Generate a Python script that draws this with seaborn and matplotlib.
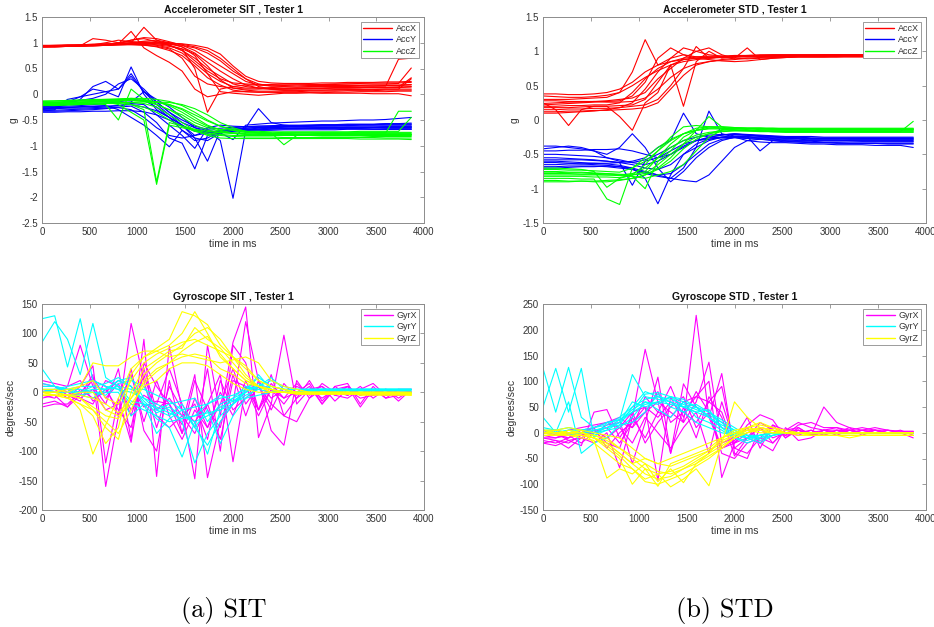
import numpy as np
import pandas as pd
import matplotlib
matplotlib.use("Agg")
import matplotlib.pyplot as plt
import seaborn as sns
from matplotlib.lines import Line2D

# ---------------- data ----------------
time_ms = [0, 133, 267, 400, 533, 667, 800, 933, 1067, 1200, 1333, 1467, 1600, 1733, 1867,
           2000, 2133, 2267, 2400, 2533, 2667, 2800, 2933, 3067, 3200, 3333, 3467, 3600, 3733, 3867]

acc_sit_x = [
    [0.93,0.93,0.94,0.95,0.95,0.96,0.97,0.98,0.97,0.95,0.90,0.80,0.60,0.40,0.25,0.15,0.12,0.12,0.13,0.14,0.14,0.15,0.15,0.15,0.16,0.16,0.16,0.17,0.17,0.18],
    [0.92,0.93,0.93,0.94,0.95,0.96,0.97,1.00,1.30,1.05,0.95,0.85,0.70,0.50,0.35,0.20,0.15,0.12,0.10,0.10,0.10,0.11,0.11,0.12,0.12,0.12,0.13,0.13,0.13,0.14],
    [0.94,0.94,0.95,0.95,0.96,0.96,0.98,1.22,0.90,0.75,0.62,0.45,0.10,-0.05,0.00,0.05,0.05,0.04,0.04,0.03,0.03,0.03,0.02,0.02,0.02,0.02,0.01,0.01,0.01,-0.03],
    [0.92,0.92,0.93,0.94,0.94,0.95,0.96,0.97,0.98,0.98,0.97,0.95,0.90,0.80,0.65,0.45,0.30,0.20,0.16,0.15,0.14,0.14,0.15,0.15,0.15,0.16,0.16,0.16,0.68,0.70],
    [0.93,0.94,0.94,0.95,0.96,1.00,1.05,1.02,1.00,0.98,0.95,0.88,0.50,-0.35,0.10,0.15,0.18,0.18,0.19,0.20,0.20,0.19,0.19,0.19,0.20,0.20,0.20,0.20,0.21,0.51],
    [0.93,0.93,0.94,0.94,1.08,1.05,1.00,1.02,0.99,0.96,0.93,0.88,0.78,0.55,0.28,0.12,0.08,0.06,0.06,0.07,0.07,0.08,0.08,0.08,0.09,0.09,0.09,0.10,0.10,0.30],
    [0.94,0.95,0.95,0.96,0.97,0.97,0.98,1.05,1.10,1.08,1.02,0.95,0.85,0.70,0.55,0.40,0.25,0.18,0.16,0.17,0.18,0.18,0.19,0.20,0.20,0.21,0.22,0.22,0.22,0.23],
    [0.92,0.92,0.93,0.93,0.94,0.95,0.96,0.96,0.95,0.93,0.88,0.70,0.35,0.20,0.15,0.12,0.10,0.10,0.11,0.11,0.12,0.12,0.12,0.13,0.13,0.13,0.14,0.14,0.14,0.15],
    [0.93,0.93,0.93,0.94,0.95,0.96,0.97,0.99,1.02,1.00,0.98,0.92,0.75,0.40,0.05,0.02,0.00,-0.02,0.00,0.02,0.02,0.03,0.03,0.04,0.04,0.05,0.05,0.05,0.06,0.06],
    [0.95,0.95,0.96,0.96,0.97,0.98,0.98,0.99,1.00,1.00,0.99,0.98,0.95,0.90,0.78,0.55,0.35,0.25,0.22,0.21,0.21,0.21,0.22,0.22,0.23,0.23,0.23,0.24,0.24,0.25],
    [0.92,0.93,0.93,0.94,0.95,0.96,0.97,0.98,1.00,1.02,1.00,0.97,0.92,0.85,0.70,0.50,0.30,0.15,0.10,0.08,0.08,0.08,0.08,0.09,0.09,0.09,0.10,0.10,0.10,0.10],
    [0.94,0.94,0.95,0.95,0.96,0.97,1.00,1.05,1.08,1.02,0.95,0.85,0.65,0.45,0.30,0.22,0.20,0.19,0.18,0.18,0.18,0.17,0.17,0.17,0.17,0.17,0.18,0.18,0.18,0.19],
    [0.93,0.93,0.94,0.95,0.96,0.97,0.98,1.00,1.03,1.05,1.00,0.92,0.80,0.62,0.45,0.30,0.18,0.12,0.10,0.10,0.11,0.11,0.12,0.12,0.12,0.13,0.13,0.13,0.14,0.32],
    [0.92,0.92,0.93,0.94,0.94,0.95,0.96,0.97,0.96,0.92,0.85,0.75,0.55,0.32,0.18,0.08,0.05,0.04,0.04,0.05,0.05,0.06,0.06,0.06,0.07,0.07,0.07,0.08,0.08,0.08],
]
acc_sit_y = [
    [-0.28,-0.27,-0.26,-0.25,-0.24,-0.23,-0.22,-0.20,-0.25,-0.32,-0.45,-0.60,-0.72,-0.75,-0.70,-0.68,-0.66,-0.65,-0.64,-0.63,-0.62,-0.62,-0.62,-0.62,-0.62,-0.62,-0.62,-0.62,-0.62,-0.62],
    [-0.30,-0.30,-0.10,-0.05,0.10,0.05,-0.05,0.53,0.00,-0.30,-0.45,-0.60,-0.80,-0.70,-0.90,-2.02,-0.70,-0.65,-0.64,-0.63,-0.62,-0.61,-0.60,-0.60,-0.60,-0.59,-0.59,-0.58,-0.58,-0.58],
    [-0.32,-0.31,-0.30,-0.29,-0.28,-0.27,-0.25,-0.23,-0.35,-0.55,-0.85,-0.95,-1.45,-0.80,-0.75,-0.72,-0.70,-0.69,-0.68,-0.67,-0.66,-0.66,-0.65,-0.65,-0.65,-0.65,-0.65,-0.64,-0.64,-0.64],
    [-0.25,-0.22,-0.15,-0.05,0.00,0.05,0.10,0.35,0.05,-0.20,-0.40,-0.60,-0.85,-1.30,-0.70,-0.65,-0.63,-0.62,-0.61,-0.60,-0.60,-0.60,-0.59,-0.59,-0.58,-0.58,-0.58,-0.57,-0.57,-0.56],
    [-0.26,-0.26,-0.25,-0.24,-0.23,-0.22,-0.30,-0.45,-0.60,-0.80,-1.02,-0.70,-0.85,-0.90,-0.75,-0.70,-0.65,-0.28,-0.55,-0.60,-0.62,-0.63,-0.64,-0.64,-0.65,-0.65,-0.65,-0.66,-0.66,-0.66],
    [-0.30,-0.25,-0.20,-0.10,0.15,0.25,0.10,0.40,0.05,-0.10,-0.25,-0.45,-0.65,-0.75,-0.72,-0.70,-0.68,-0.67,-0.66,-0.66,-0.66,-0.66,-0.67,-0.67,-0.67,-0.67,-0.68,-0.68,-0.68,-0.68],
    [-0.35,-0.35,-0.34,-0.34,-0.33,-0.33,-0.32,-0.32,-0.34,-0.40,-0.50,-0.62,-0.70,-0.72,-0.72,-0.71,-0.70,-0.70,-0.70,-0.69,-0.69,-0.69,-0.69,-0.69,-0.68,-0.68,-0.68,-0.68,-0.68,-0.68],
    [-0.22,-0.21,-0.20,-0.19,-0.18,-0.17,-0.16,-0.15,0.05,-0.15,-0.35,-0.55,-0.65,-0.70,-0.75,-0.88,-0.60,-0.58,-0.56,-0.55,-0.54,-0.53,-0.52,-0.52,-0.51,-0.50,-0.50,-0.49,-0.47,-0.45],
    [-0.28,-0.28,-0.27,-0.27,-0.26,-0.25,-0.22,-0.18,-0.20,-0.40,-0.60,-0.80,-1.05,-0.65,-0.60,-0.62,-0.63,-0.64,-0.64,-0.65,-0.65,-0.65,-0.65,-0.65,-0.64,-0.64,-0.64,-0.63,-0.63,-0.63],
    [-0.24,-0.24,-0.23,-0.22,-0.20,-0.18,-0.15,-0.10,-0.12,-0.25,-0.45,-0.70,-0.90,-0.85,-0.72,-0.68,-0.66,-0.64,-0.63,-0.62,-0.62,-0.61,-0.61,-0.61,-0.61,-0.60,-0.60,-0.60,-0.60,-0.60],
    [-0.33,-0.33,-0.32,-0.31,-0.30,-0.28,-0.26,-0.30,-0.45,-0.65,-0.80,-0.85,-0.80,-0.75,-0.72,-0.70,-0.69,-0.68,-0.67,-0.67,-0.67,-0.66,-0.66,-0.66,-0.66,-0.66,-0.65,-0.65,-0.65,-0.65],
    [-0.20,-0.18,-0.15,-0.12,-0.08,0.00,0.20,0.30,0.10,-0.15,-0.35,-0.50,-0.62,-0.68,-0.66,-0.64,-0.63,-0.62,-0.62,-0.61,-0.61,-0.60,-0.60,-0.60,-0.59,-0.59,-0.59,-0.58,-0.58,-0.58],
]
acc_sit_z = [
    [-0.15,-0.15,-0.14,-0.13,-0.12,-0.12,-0.12,-0.12,-0.13,-0.15,-0.20,-0.30,-0.45,-0.60,-0.70,-0.75,-0.77,-0.78,-0.78,-0.78,-0.78,-0.78,-0.78,-0.78,-0.78,-0.78,-0.78,-0.78,-0.78,-0.78],
    [-0.18,-0.18,-0.17,-0.16,-0.15,-0.15,-0.20,-0.35,-0.50,-1.75,-0.60,-0.65,-0.70,-0.75,-0.78,-0.80,-0.80,-0.80,-0.80,-0.80,-0.80,-0.80,-0.81,-0.81,-0.81,-0.81,-0.82,-0.82,-0.82,-0.82],
    [-0.20,-0.20,-0.19,-0.18,-0.18,-0.20,-0.50,0.10,-0.10,-0.20,-0.30,-0.40,-0.55,-0.65,-0.72,-0.76,-0.78,-0.79,-0.80,-0.80,-0.80,-0.80,-0.80,-0.80,-0.80,-0.80,-0.80,-0.80,-0.80,-0.80],
    [-0.14,-0.13,-0.12,-0.12,-0.11,-0.10,-0.10,-0.10,-0.12,-0.15,-0.20,-0.28,-0.40,-0.52,-0.62,-0.68,-0.72,-0.74,-0.75,-0.98,-0.80,-0.78,-0.77,-0.76,-0.76,-0.75,-0.75,-0.75,-0.33,-0.33],
    [-0.22,-0.22,-0.21,-0.20,-0.19,-0.18,-0.17,-0.16,-0.18,-0.25,-0.40,-0.55,-0.70,-0.80,-0.85,-0.86,-0.86,-0.86,-0.86,-0.86,-0.86,-0.86,-0.86,-0.86,-0.86,-0.87,-0.87,-0.87,-0.87,-0.88],
    [-0.16,-0.16,-0.15,-0.15,-0.14,-0.12,-0.10,-0.08,-0.10,-0.15,-0.22,-0.35,-0.50,-0.62,-0.68,-0.70,-0.72,-0.72,-0.73,-0.73,-0.73,-0.73,-0.73,-0.73,-0.73,-0.72,-0.72,-0.72,-0.72,-0.45],
    [-0.17,-0.17,-0.16,-0.16,-0.15,-0.14,-0.14,-0.20,-0.30,-1.70,-0.55,-0.62,-0.68,-0.72,-0.75,-0.76,-0.77,-0.77,-0.77,-0.77,-0.77,-0.77,-0.76,-0.76,-0.76,-0.76,-0.76,-0.76,-0.76,-0.76],
    [-0.19,-0.19,-0.18,-0.18,-0.17,-0.17,-0.16,-0.16,-0.15,-0.15,-0.16,-0.20,-0.28,-0.40,-0.55,-0.65,-0.72,-0.75,-0.76,-0.76,-0.77,-0.77,-0.77,-0.77,-0.78,-0.78,-0.78,-0.78,-0.78,-0.78],
    [-0.13,-0.13,-0.12,-0.11,-0.10,-0.10,-0.09,-0.08,-0.08,-0.10,-0.14,-0.22,-0.35,-0.50,-0.62,-0.70,-0.74,-0.76,-0.77,-0.77,-0.78,-0.78,-0.78,-0.78,-0.79,-0.79,-0.79,-0.79,-0.79,-0.79],
    [-0.21,-0.21,-0.20,-0.20,-0.19,-0.18,-0.18,-0.20,-0.25,-0.35,-0.50,-0.62,-0.72,-0.78,-0.80,-0.82,-0.83,-0.83,-0.83,-0.84,-0.84,-0.84,-0.84,-0.84,-0.84,-0.84,-0.84,-0.85,-0.85,-0.85],
    [-0.17,-0.17,-0.16,-0.15,-0.15,-0.14,-0.13,-0.12,-0.14,-0.20,-0.30,-0.45,-0.60,-0.70,-0.74,-0.75,-0.75,-0.75,-0.75,-0.74,-0.74,-0.74,-0.74,-0.74,-0.74,-0.74,-0.74,-0.74,-0.74,-0.74],
]

acc_std_x = [
    [0.20,0.20,0.21,0.21,0.22,0.22,0.25,0.40,0.60,0.75,0.85,0.88,0.90,0.92,0.92,0.93,0.93,0.93,0.93,0.94,0.94,0.94,0.94,0.94,0.94,0.94,0.94,0.93,0.93,0.93],
    [0.30,0.30,0.30,0.31,0.32,0.33,0.40,0.70,1.17,0.80,0.85,0.90,0.92,0.93,0.93,0.94,0.94,0.95,0.95,0.95,0.95,0.95,0.95,0.95,0.95,0.95,0.95,0.95,0.95,0.95],
    [0.25,0.15,-0.08,0.15,0.20,0.20,0.21,0.22,0.30,0.55,0.80,0.88,0.90,0.91,0.92,0.92,0.92,0.93,0.93,0.93,0.93,0.93,0.93,0.93,0.93,0.93,0.93,0.93,0.93,0.93],
    [0.18,0.18,0.18,0.19,0.20,0.20,0.05,-0.15,0.25,0.40,0.80,0.20,0.85,1.00,0.90,0.92,0.93,0.93,0.94,0.94,0.94,0.94,0.94,0.94,0.94,0.94,0.94,0.93,0.93,0.93],
    [0.38,0.38,0.37,0.37,0.38,0.40,0.45,0.55,0.70,0.80,0.90,1.05,1.00,0.95,0.93,0.92,0.92,0.92,0.92,0.92,0.92,0.92,0.92,0.92,0.93,0.93,0.93,0.93,0.93,0.93],
    [0.12,0.12,0.13,0.13,0.14,0.14,0.15,0.16,0.18,0.25,0.45,0.65,0.80,0.85,0.88,0.90,1.05,0.88,0.90,0.91,0.92,0.92,0.92,0.92,0.92,0.92,0.92,0.92,0.92,0.92],
    [0.22,0.23,0.24,0.25,0.26,0.27,0.28,0.35,0.55,0.90,1.05,0.95,0.90,0.88,0.86,0.85,0.86,0.88,0.90,0.91,0.92,0.92,0.92,0.93,0.93,0.93,0.93,0.94,0.94,0.94],
    [0.28,0.28,0.27,0.27,0.27,0.26,0.26,0.27,0.32,0.45,0.62,0.75,0.82,0.85,0.87,0.88,0.90,0.91,0.92,0.93,0.94,0.94,0.95,0.95,0.95,0.95,0.95,0.95,0.95,0.95],
    [0.15,0.15,0.16,0.16,0.17,0.17,0.18,0.20,0.22,0.30,0.50,0.75,1.07,0.90,0.92,0.93,0.93,0.94,0.94,0.94,0.94,0.94,0.94,0.94,0.94,0.94,0.94,0.94,0.94,0.94],
    [0.35,0.34,0.33,0.33,0.34,0.36,0.40,0.50,0.62,0.72,0.80,0.85,0.88,0.90,0.92,0.93,0.94,0.94,0.95,0.95,0.95,0.95,0.95,0.95,0.95,0.95,0.95,0.95,0.95,0.95],
    [0.10,0.10,0.11,0.12,0.13,0.15,0.18,0.25,0.45,0.70,0.90,0.95,0.92,0.90,0.91,0.92,0.93,0.93,0.93,0.93,0.93,0.93,0.93,0.93,0.93,0.93,0.93,0.93,0.93,0.93],
    [0.24,0.25,0.26,0.26,0.27,0.28,0.30,0.32,0.40,0.60,0.75,0.90,1.00,1.05,0.95,0.90,0.89,0.90,0.91,0.92,0.92,0.92,0.92,0.92,0.92,0.92,0.92,0.92,0.92,0.92],
]
acc_std_y = [
    [-0.45,-0.45,-0.44,-0.44,-0.43,-0.43,-0.42,-0.45,-0.50,-0.55,-0.45,-0.35,-0.30,-0.28,-0.26,-0.25,-0.25,-0.26,-0.27,-0.28,-0.28,-0.29,-0.29,-0.29,-0.30,-0.30,-0.30,-0.30,-0.30,-0.30],
    [-0.60,-0.60,-0.61,-0.62,-0.63,-0.64,-0.66,-0.70,-0.85,-1.22,-0.80,-0.50,-0.40,-0.30,-0.25,-0.22,-0.22,-0.23,-0.24,-0.25,-0.26,-0.27,-0.27,-0.27,-0.28,-0.28,-0.28,-0.28,-0.28,-0.28],
    [-0.65,-0.65,-0.64,-0.64,-0.63,-0.63,-0.62,-0.60,-0.55,-0.40,-0.30,0.10,-0.20,-0.25,-0.22,-0.20,-0.22,-0.24,-0.25,-0.26,-0.26,-0.27,-0.27,-0.27,-0.27,-0.27,-0.27,-0.27,-0.27,-0.27],
    [-0.38,-0.38,-0.40,-0.42,-0.45,-0.50,-0.40,-0.20,-0.40,-0.70,-0.90,-0.75,-0.55,-0.40,-0.30,-0.25,-0.24,-0.45,-0.30,-0.32,-0.32,-0.33,-0.33,-0.33,-0.34,-0.34,-0.34,-0.34,-0.34,-0.34],
    [-0.70,-0.70,-0.69,-0.68,-0.68,-0.67,-0.68,-0.70,-0.75,-0.80,-0.85,-0.70,-0.40,0.13,-0.20,-0.25,-0.30,-0.32,-0.33,-0.33,-0.34,-0.35,-0.35,-0.36,-0.36,-0.36,-0.37,-0.37,-0.37,-0.40],
    [-0.55,-0.55,-0.56,-0.57,-0.58,-0.60,-0.62,-0.95,-0.60,-0.55,-0.50,-0.40,-0.30,-0.25,-0.22,-0.20,-0.21,-0.22,-0.23,-0.24,-0.24,-0.24,-0.25,-0.25,-0.25,-0.25,-0.25,-0.25,-0.25,-0.25],
    [-0.62,-0.62,-0.63,-0.64,-0.65,-0.66,-0.68,-0.72,-0.78,-0.82,-0.85,-0.88,-0.90,-0.80,-0.60,-0.40,-0.30,-0.28,-0.29,-0.30,-0.31,-0.31,-0.32,-0.32,-0.32,-0.32,-0.32,-0.32,-0.32,-0.32],
    [-0.50,-0.50,-0.51,-0.52,-0.53,-0.55,-0.58,-0.62,-0.65,-0.60,-0.50,-0.38,-0.30,-0.26,-0.25,-0.25,-0.26,-0.27,-0.28,-0.29,-0.30,-0.30,-0.30,-0.30,-0.30,-0.31,-0.31,-0.31,-0.31,-0.31],
    [-0.58,-0.58,-0.58,-0.58,-0.59,-0.60,-0.62,-0.65,-0.70,-0.72,-0.65,-0.50,-0.35,-0.28,-0.25,-0.24,-0.24,-0.25,-0.26,-0.27,-0.27,-0.28,-0.28,-0.28,-0.28,-0.28,-0.28,-0.28,-0.28,-0.28],
    [-0.68,-0.68,-0.67,-0.67,-0.67,-0.68,-0.70,-0.72,-0.76,-0.80,-0.78,-0.65,-0.50,-0.35,-0.28,-0.26,-0.27,-0.28,-0.30,-0.31,-0.32,-0.33,-0.33,-0.34,-0.34,-0.34,-0.34,-0.35,-0.35,-0.35],
    [-0.42,-0.40,-0.38,-0.40,-0.45,-0.55,-0.60,-0.62,-0.58,-0.50,-0.40,-0.30,-0.25,-0.22,-0.21,-0.21,-0.22,-0.23,-0.24,-0.25,-0.25,-0.26,-0.26,-0.26,-0.26,-0.26,-0.26,-0.26,-0.26,-0.26],
]
acc_std_z = [
    [-0.80,-0.80,-0.80,-0.80,-0.80,-0.80,-0.80,-0.78,-0.70,-0.55,-0.40,-0.30,-0.22,-0.18,-0.16,-0.15,-0.15,-0.15,-0.15,-0.15,-0.15,-0.15,-0.15,-0.15,-0.15,-0.15,-0.15,-0.15,-0.15,-0.15],
    [-0.85,-0.85,-0.85,-0.86,-0.86,-1.15,-1.23,-0.70,-0.60,-0.45,-0.30,-0.20,-0.15,-0.12,-0.12,-0.12,-0.12,-0.12,-0.12,-0.13,-0.13,-0.13,-0.13,-0.13,-0.13,-0.13,-0.13,-0.13,-0.13,-0.13],
    [-0.75,-0.75,-0.76,-0.76,-0.77,-0.78,-0.80,-0.82,-1.00,-0.60,-0.45,-0.25,-0.15,-0.10,-0.10,-0.11,-0.12,-0.12,-0.13,-0.13,-0.14,-0.14,-0.14,-0.14,-0.14,-0.14,-0.14,-0.14,-0.14,-0.14],
    [-0.88,-0.88,-0.89,-0.89,-0.90,-0.90,-0.88,-0.85,-0.80,-0.70,-0.55,-0.35,-0.15,0.05,-0.10,-0.15,-0.16,-0.17,-0.17,-0.17,-0.17,-0.17,-0.17,-0.17,-0.17,-0.17,-0.17,-0.17,-0.17,-0.02],
    [-0.70,-0.70,-0.71,-0.72,-0.75,-0.98,-0.85,-0.80,-0.75,-0.55,-0.35,-0.20,-0.12,-0.10,-0.10,-0.11,-0.12,-0.12,-0.12,-0.12,-0.12,-0.12,-0.12,-0.12,-0.12,-0.12,-0.12,-0.12,-0.12,-0.12],
    [-0.78,-0.78,-0.78,-0.79,-0.79,-0.80,-0.81,-0.82,-0.85,-0.80,-0.75,-0.65,-0.45,-0.25,-0.15,-0.12,-0.14,-0.16,-0.17,-0.18,-0.18,-0.18,-0.18,-0.18,-0.18,-0.18,-0.18,-0.18,-0.18,-0.18],
    [-0.82,-0.82,-0.82,-0.82,-0.83,-0.83,-0.84,-0.80,-0.65,-0.45,-0.25,-0.10,-0.08,-0.10,-0.12,-0.14,-0.15,-0.16,-0.16,-0.16,-0.16,-0.16,-0.16,-0.16,-0.16,-0.16,-0.16,-0.16,-0.16,-0.16],
    [-0.72,-0.72,-0.73,-0.73,-0.74,-0.75,-0.76,-0.70,-0.55,-0.40,-0.28,-0.20,-0.15,-0.13,-0.13,-0.13,-0.13,-0.14,-0.14,-0.14,-0.14,-0.14,-0.14,-0.14,-0.14,-0.14,-0.14,-0.14,-0.14,-0.14],
    [-0.90,-0.90,-0.90,-0.89,-0.89,-0.88,-0.87,-0.85,-0.80,-0.72,-0.60,-0.42,-0.28,-0.20,-0.17,-0.16,-0.16,-0.16,-0.17,-0.17,-0.17,-0.17,-0.17,-0.17,-0.17,-0.17,-0.17,-0.17,-0.17,-0.17],
    [-0.76,-0.76,-0.77,-0.77,-0.78,-0.78,-0.79,-0.80,-0.78,-0.65,-0.50,-0.35,-0.25,-0.20,-0.14,-0.12,-0.12,-0.12,-0.13,-0.13,-0.13,-0.13,-0.13,-0.13,-0.13,-0.13,-0.13,-0.13,-0.13,-0.13],
]

gyr_sit_x = [
    [-20,-15,-25,-5,30,-160,-40,117,20,-60,10,-30,-50,-20,30,-118,10,-30,5,-10,0,15,-20,5,10,-5,0,5,-10,5],
    [20,15,10,80,10,-20,40,-80,90,-143,78,-30,-147,80,-40,85,145,-77,-20,97,-20,5,10,-15,5,-10,-5,5,0,0],
    [0,5,-10,10,45,-120,-10,-85,50,10,-20,-55,30,-145,-50,-20,120,20,-65,-90,20,-10,15,0,10,-25,5,-10,5,5],
    [-25,-20,-20,0,20,10,-40,40,-65,-100,20,-70,-10,-60,0,-40,20,-30,30,-40,-10,20,-15,10,-5,10,-10,5,-15,5],
    [5,0,5,-10,-20,20,10,-30,-5,-20,40,-20,-60,40,-100,80,50,-30,15,-10,15,-5,5,-5,10,-5,5,-5,0,0],
    [10,10,-5,-15,25,-10,15,-40,30,-40,-60,-40,-20,-80,20,-30,-10,10,-20,-40,-50,-10,5,0,-5,5,-5,0,5,0],
    [-10,-5,-25,5,-10,0,20,10,-25,-15,-20,-70,20,-30,-60,30,-40,20,-10,5,-5,10,-20,10,15,-20,10,-10,-5,0],
    [15,10,0,-10,5,-30,-20,30,-50,20,-40,-80,-30,-60,-20,40,-20,10,-30,15,-10,5,-10,5,-5,5,-5,5,-5,0],
    [-5,-10,10,20,-15,5,-30,-60,40,-30,-10,-40,-70,-20,-80,20,10,-40,5,-20,10,0,10,-5,-10,5,15,-5,0,0],
]
gyr_sit_y = [
    [125,130,43,125,20,10,5,0,-10,-20,-30,-50,-120,-70,-40,-20,0,30,5,0,0,5,5,5,5,5,5,5,5,5],
    [85,120,90,30,117,25,10,-15,-20,-45,-60,-110,-50,-105,-30,-10,10,5,0,5,5,5,5,5,5,5,5,5,5,5],
    [40,10,5,0,10,5,20,25,-10,-30,-40,-20,-60,-30,-87,-40,-10,10,5,0,0,0,5,5,5,5,5,5,5,5],
    [5,5,5,10,10,15,25,10,-20,-25,-35,-45,-40,-20,-10,-5,5,25,10,5,0,0,0,0,0,0,0,0,0,0],
    [0,0,0,0,5,5,10,5,5,-5,-15,-30,-60,-90,-50,-20,5,10,20,10,5,5,5,5,5,5,5,5,5,5],
    [5,0,-5,-5,0,0,0,-40,-20,-70,-45,-30,-25,-20,-5,-15,-10,-5,0,0,0,0,0,0,0,0,0,0,0,0],
    [10,10,5,5,0,-5,15,20,10,-30,-20,-15,-10,-50,-20,-10,0,10,25,5,0,3,3,3,3,3,3,3,3,3],
    [0,5,10,15,20,10,5,-20,-30,-40,-50,-45,-40,-35,-30,-20,-5,5,10,5,5,5,5,5,5,5,5,5,5,5],
    [15,10,5,-5,-10,5,20,10,-15,-35,-25,-40,-50,-40,-25,-15,0,15,5,0,0,0,0,0,0,0,0,0,0,0],
]
gyr_sit_z = [
    [0,-5,-5,-30,-105,-55,-10,40,60,70,80,100,137,100,60,40,20,10,5,0,-2,-3,-3,-3,-3,-3,-3,-3,-3,-3],
    [-5,-5,-10,-20,-40,-87,-60,30,60,75,90,137,130,115,80,60,45,20,10,5,0,-2,-2,-2,-2,-2,-2,-2,-2,-5],
    [0,0,-5,-10,-30,-60,-80,0,40,55,70,75,110,90,75,50,25,10,5,0,0,-2,-2,-2,-2,-2,-2,-2,-2,-2],
    [5,5,0,10,50,45,45,60,70,70,60,65,60,55,50,55,60,50,20,10,5,0,0,0,0,0,0,0,0,0],
    [0,-5,-10,-20,-30,-50,-70,-30,20,40,50,70,85,95,65,40,20,10,0,0,0,0,0,0,0,-5,-5,-5,-5,-5],
    [-5,-5,-5,-5,-10,-20,-35,-10,15,35,50,60,65,60,40,30,15,10,5,0,-3,-3,-3,-3,-3,-3,-3,-3,-3,-3],
    [0,0,-5,0,0,-30,-40,-20,10,20,40,50,50,45,30,15,5,0,0,0,0,0,0,0,0,0,0,0,0,0],
    [0,0,5,10,20,-10,-20,20,50,65,75,85,90,80,70,60,40,20,10,5,0,0,0,0,0,0,0,0,0,-3],
    [-5,-5,-5,-10,-25,-40,-45,-10,30,50,65,80,100,110,90,60,30,10,0,0,-3,-3,-3,-3,-3,-3,-3,-3,-3,-3],
]

gyr_std_x = [
    [-20,-15,-30,-10,-20,0,-68,30,162,60,40,20,228,30,-30,-20,-10,10,5,-5,0,5,-5,5,0,5,0,5,0,-10],
    [-5,-10,0,-5,5,-20,-30,40,50,-93,70,20,60,137,-20,-10,30,-30,15,5,10,-5,50,20,10,5,10,5,0,2],
    [0,5,-5,0,10,20,25,-60,20,108,-40,95,50,30,115,-40,-50,10,-20,5,20,10,5,-5,5,0,5,0,2,2],
    [-10,-10,-5,-20,0,15,20,10,70,40,30,60,70,100,-87,-20,15,35,25,-10,5,0,5,5,5,0,0,0,0,0],
    [5,0,-15,-25,40,45,-10,30,-10,40,90,30,80,40,-30,-15,10,-20,-35,10,-15,-10,5,10,0,5,5,0,5,-5],
    [-15,-20,-10,5,10,-30,0,20,40,60,-40,50,-10,70,30,-45,-10,20,5,-5,15,20,10,10,5,10,5,5,3,3],
    [0,-5,5,10,15,20,10,-20,30,0,-30,10,40,-40,60,-20,0,10,-10,0,5,-5,0,0,0,0,0,0,0,0],
    [-10,-15,-20,-5,0,10,-20,20,50,30,60,40,20,60,40,-30,-10,-20,10,0,-5,5,-5,5,0,0,0,0,0,0],
    [5,-5,-10,0,10,20,30,10,40,80,20,40,70,60,90,-30,-40,-10,-20,5,5,-5,5,0,5,0,5,0,0,0],
    [-20,-25,-15,-10,5,-10,10,40,-20,20,50,70,10,40,-40,-50,-20,-10,15,-10,10,-5,5,0,10,-5,5,0,0,0],
]
gyr_std_y = [
    [125,40,127,30,10,20,25,113,70,65,60,50,40,30,10,-5,-10,-5,0,0,0,0,0,0,0,0,0,0,0,0],
    [50,125,40,125,-10,20,25,40,75,78,70,60,50,40,20,0,-5,-5,0,0,0,0,0,0,0,0,0,0,0,0],
    [30,0,60,-40,-20,-10,15,50,80,70,60,40,50,30,15,5,-10,-5,0,0,0,0,0,0,0,0,0,0,0,0],
    [10,5,10,5,0,5,20,60,50,60,70,50,40,45,10,-10,-20,-10,-5,0,0,0,0,0,0,0,0,0,0,0],
    [0,0,5,0,-5,5,10,30,60,45,30,60,30,20,5,-10,-15,-5,0,0,0,0,0,0,0,0,0,0,0,0],
    [5,5,0,0,0,10,15,20,40,75,50,40,20,10,0,-5,-10,-20,-5,0,0,0,0,0,0,0,0,0,0,0],
    [0,5,0,5,10,15,30,50,65,70,65,55,45,35,20,5,-5,-10,0,0,0,0,0,0,0,0,0,0,0,0],
    [5,0,-5,0,5,10,20,40,55,60,55,50,55,40,25,10,-5,-15,-5,0,0,0,0,0,0,0,0,0,0,0],
    [0,0,5,5,5,10,25,45,60,55,70,65,50,30,10,0,-10,-5,0,0,0,0,0,0,0,0,0,0,0,0],
]
gyr_std_z = [
    [0,-5,5,0,-10,-30,-50,-100,-70,-104,-60,-50,-40,-30,-10,0,5,5,0,0,0,0,0,0,0,0,0,0,0,0],
    [-5,-5,0,5,-20,-40,-60,-70,-90,-80,-105,-90,-70,-103,-20,60,30,10,5,0,-5,-5,-5,-5,-5,-5,-5,-5,-5,-5],
    [5,0,-5,-10,-15,-88,-70,-80,-60,-95,-70,-97,-60,-40,-10,5,10,5,0,0,0,0,0,0,0,0,0,0,0,0],
    [0,0,0,0,-5,-10,-30,-50,-70,-80,-75,-65,-50,-35,-20,-5,5,0,0,0,0,0,0,0,0,0,0,0,0,0],
    [-5,-5,-5,-5,-10,-20,-40,-60,-50,-60,-50,-40,-30,-20,-10,0,10,15,10,5,0,-5,-5,-5,-10,-5,-5,-5,-5,-5],
    [0,5,10,5,0,-5,-10,-30,-50,-60,-65,-55,-45,-35,-15,-5,10,20,10,0,0,0,0,0,0,0,0,0,0,0],
    [0,0,-5,-5,-10,-20,-40,-60,-80,-90,-85,-70,-55,-40,-25,-10,0,5,5,0,0,0,0,0,0,0,0,0,0,0],
    [5,5,0,0,-5,-15,-30,-45,-60,-75,-80,-70,-60,-45,-30,-10,5,10,5,0,0,0,0,0,0,0,0,0,0,0],
    [0,0,0,-5,-10,-25,-45,-70,-95,-100,-90,-80,-65,-50,-30,-10,0,10,5,0,0,-5,-5,-5,-5,-5,-5,-5,-5,-5],
]

acc_labels = ["AccX", "AccY", "AccZ"]
gyr_labels = ["GyrX", "GyrY", "GyrZ"]
acc_colors = ["#FF0000", "#0000FF", "#00FF00"]
gyr_colors = ["#FF00FF", "#00FFFF", "#FFFF00"]

# ---------------- style ----------------
sns.set_theme(style="white")
plt.rcParams["font.family"] = ["Liberation Sans", "DejaVu Sans"]

def to_long(series_list, labels):
    rows = []
    for lab, trials in zip(labels, series_list):
        for k, tr in enumerate(trials):
            for t, v in zip(time_ms, tr):
                rows.append((t, v, lab, f"{lab}_{k}"))
    return pd.DataFrame(rows, columns=["time", "value", "signal", "trial"])

W, H = 934, 627
def pos(x0, x1, ytop, ybot):
    return [x0 / W, 1 - ybot / H, (x1 - x0) / W, (ybot - ytop) / H]

panels = [
    dict(series=[acc_sit_x, acc_sit_y, acc_sit_z], labels=acc_labels, colors=acc_colors,
         title="Accelerometer SIT , Tester 1", ylabel="g", ylim=(-2.5, 1.5),
         yticks=[-2.5, -2, -1.5, -1, -0.5, 0, 0.5, 1, 1.5], rect=pos(42, 424, 17, 223)),
    dict(series=[acc_std_x, acc_std_y, acc_std_z], labels=acc_labels, colors=acc_colors,
         title="Accelerometer STD , Tester 1", ylabel="g", ylim=(-1.5, 1.5),
         yticks=[-1.5, -1, -0.5, 0, 0.5, 1, 1.5], rect=pos(543, 926, 17, 223)),
    dict(series=[gyr_sit_x, gyr_sit_y, gyr_sit_z], labels=gyr_labels, colors=gyr_colors,
         title="Gyroscope SIT , Tester 1", ylabel="degrees/sec", ylim=(-200, 150),
         yticks=[-200, -150, -100, -50, 0, 50, 100, 150], rect=pos(42, 424, 304, 510)),
    dict(series=[gyr_std_x, gyr_std_y, gyr_std_z], labels=gyr_labels, colors=gyr_colors,
         title="Gyroscope STD , Tester 1", ylabel="degrees/sec", ylim=(-150, 250),
         yticks=[-150, -100, -50, 0, 50, 100, 150, 200, 250], rect=pos(543, 926, 304, 510)),
]

fig = plt.figure(figsize=(W / 100, H / 100), dpi=100)
frame_c = "#8c8c8c"
text_c = "#333333"

for p in panels:
    ax = fig.add_axes(p["rect"])
    df = to_long(p["series"], p["labels"])
    sns.lineplot(data=df, x="time", y="value", hue="signal", units="trial",
                 estimator=None, hue_order=p["labels"],
                 palette=dict(zip(p["labels"], p["colors"])),
                 linewidth=0.8, legend=False, sort=False, ax=ax)
    ax.set_xlim(0, 4000)
    ax.set_ylim(*p["ylim"])
    xt = list(range(0, 4001, 500))
    ax.set_xticks(xt)
    ax.set_xticklabels([str(v) for v in xt])
    ax.set_yticks(p["yticks"])
    ax.set_yticklabels([f"{v:g}" for v in p["yticks"]])
    ax.tick_params(direction="in", top=True, right=True, length=3, width=0.6,
                   color=frame_c, labelcolor=text_c, labelsize=7, pad=3)
    for s in ax.spines.values():
        s.set_color(frame_c)
        s.set_linewidth(0.7)
    ax.set_title(p["title"], fontsize=7.5, fontweight="bold", color="#111111", pad=3)
    ax.set_xlabel("time in ms", fontsize=7.5, color=text_c, labelpad=1)
    ax.set_ylabel(p["ylabel"], fontsize=7.5, color=text_c, labelpad=2)
    handles = [Line2D([], [], color=c, lw=1.0) for c in p["colors"]]
    leg = ax.legend(handles, p["labels"], loc="upper right", fontsize=6.5, frameon=True,
                    fancybox=False, edgecolor=frame_c, framealpha=1,
                    borderaxespad=0.5, handlelength=3.2, labelspacing=0.25,
                    borderpad=0.3, handletextpad=0.4)
    leg.get_frame().set_linewidth(0.6)
    for t in leg.get_texts():
        t.set_color(text_c)

fig.text(224 / W, 1 - 611 / H, "(a) SIT", family=["cmr10", "DejaVu Serif"], fontsize=19,
         ha="center", va="center", color="black")
fig.text(725 / W, 1 - 611 / H, "(b) STD", family=["cmr10", "DejaVu Serif"], fontsize=19,
         ha="center", va="center", color="black")

fig.savefig("out.png", dpi=100, facecolor="white")
